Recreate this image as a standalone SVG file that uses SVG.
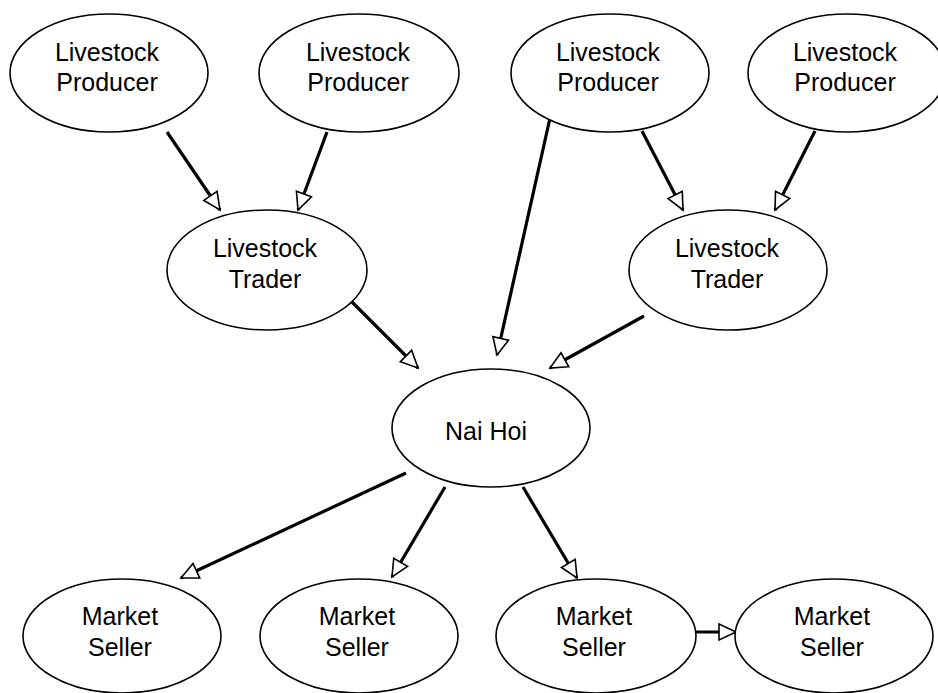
<svg xmlns="http://www.w3.org/2000/svg" width="938" height="693" viewBox="0 0 938 693">
<style>
.node ellipse{fill:#fff;stroke:#000;stroke-width:1.6}
.node text{font-family:"Liberation Sans",Arial,sans-serif;font-size:25px;fill:#000;text-anchor:middle}
.edge{stroke:#000;stroke-width:3.2;fill:none;marker-end:url(#ah)}
</style>
<defs>
<marker id="ah" markerUnits="userSpaceOnUse" markerWidth="24" markerHeight="24" viewBox="-3 -3 24 22" refX="17" refY="8" orient="auto">
<path d="M0,0 L17,8 L0,16 Z" fill="#fff" stroke="#000" stroke-width="1.6" stroke-linejoin="miter"/>
</marker>
</defs>
<rect width="938" height="693" fill="#fff"/>
<g id="connectors">
<line class="edge" x1="167" y1="132" x2="220" y2="210"/>
<line class="edge" x1="327" y1="132" x2="298" y2="210"/>
<line class="edge" x1="550" y1="118" x2="497" y2="355"/>
<line class="edge" x1="642" y1="131" x2="683" y2="210"/>
<line class="edge" x1="815" y1="131" x2="775" y2="210"/>
<line class="edge" x1="351" y1="301" x2="418" y2="368"/>
<line class="edge" x1="644" y1="316" x2="550" y2="368"/>
<line class="edge" x1="406" y1="473" x2="181" y2="578"/>
<line class="edge" x1="445" y1="487" x2="392" y2="577"/>
<line class="edge" x1="523" y1="487" x2="577" y2="578"/>
<line class="edge" x1="696" y1="632" x2="736" y2="632"/>
</g>
<g id="producer1" class="node"><ellipse cx="109" cy="73" rx="99" ry="59"/><text x="107" y="61">Livestock</text><text x="107" y="91">Producer</text></g>
<g id="producer2" class="node"><ellipse cx="359" cy="73" rx="100" ry="59"/><text x="358" y="61">Livestock</text><text x="358" y="91">Producer</text></g>
<g id="producer3" class="node"><ellipse cx="610" cy="73" rx="99" ry="59"/><text x="608" y="61">Livestock</text><text x="608" y="91">Producer</text></g>
<g id="producer4" class="node"><ellipse cx="847" cy="73" rx="99" ry="59"/><text x="845" y="61">Livestock</text><text x="845" y="91">Producer</text></g>
<g id="trader1" class="node"><ellipse cx="267" cy="270" rx="100" ry="60"/><text x="265" y="257">Livestock</text><text x="265" y="288">Trader</text></g>
<g id="trader2" class="node"><ellipse cx="728" cy="270" rx="99" ry="60"/><text x="727" y="257">Livestock</text><text x="727" y="288">Trader</text></g>
<g id="naihoi" class="node"><ellipse cx="491" cy="428" rx="99" ry="59"/><text x="486" y="440">Nai Hoi</text></g>
<g id="seller1" class="node"><ellipse cx="122" cy="636" rx="99" ry="57"/><text x="120" y="625">Market</text><text x="120" y="656">Seller</text></g>
<g id="seller2" class="node"><ellipse cx="359" cy="636" rx="99" ry="57"/><text x="357" y="625">Market</text><text x="357" y="656">Seller</text></g>
<g id="seller3" class="node"><ellipse cx="596" cy="636" rx="100" ry="57"/><text x="594" y="625">Market</text><text x="594" y="656">Seller</text></g>
<g id="seller4" class="node"><ellipse cx="834" cy="636" rx="99" ry="57"/><text x="832" y="625">Market</text><text x="832" y="656">Seller</text></g>
</svg>
